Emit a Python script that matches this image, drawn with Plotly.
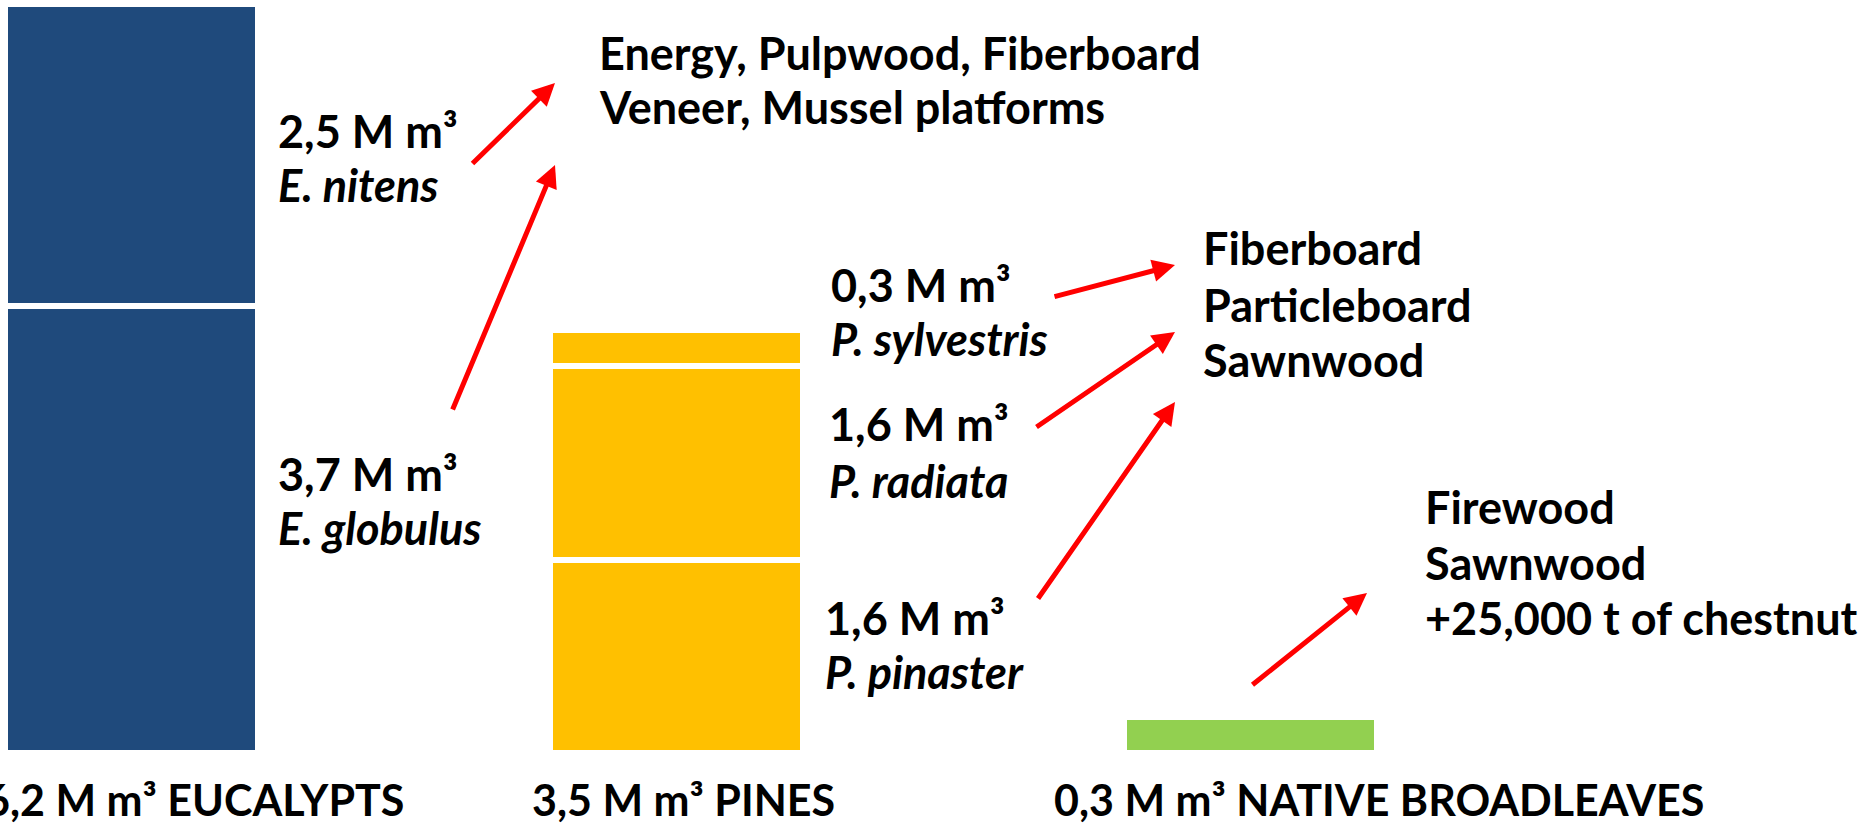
import plotly.graph_objects as go

# --- data -------------------------------------------------------------
groups = ["EUCALYPTS", "PINES", "NATIVE BROADLEAVES"]
group_colors = ["#1F4A7C", "#FFC000", "#92D050"]

species = ["E. globulus", "E. nitens", "P. pinaster", "P. radiata", "P. sylvestris", "Native broadleaves"]
species_group = ["EUCALYPTS", "EUCALYPTS", "PINES", "PINES", "PINES", "NATIVE BROADLEAVES"]
species_volume = [3.7, 2.5, 1.6, 1.6, 0.3, 0.3]  # million m3

eucalypt_uses = ["Energy, Pulpwood, Fiberboard", "Veneer, Mussel platforms"]
pine_uses = ["Fiberboard", "Particleboard", "Sawnwood"]
broadleaf_uses = ["Firewood", "Sawnwood", "+25,000 t of chestnut"]

# --- figure geometry (pixels) ----------------------------------------
W, H = 1861, 827
FONT = "Lato, Carlito, 'Open Sans', sans-serif"
FS = 45
LINE_W = 6            # white separator between stacked segments
X_SCALE = 559.5       # px per category step
BAR_W = (247 + LINE_W) / X_SCALE
Y_SCALE = 120.8       # px per million m3
Y_ZERO = 74           # px of y=0 above the bottom edge
group_shift = {"EUCALYPTS": 0, "PINES": -15, "NATIVE BROADLEAVES": 0}


def vol(v):
    return f"{v:.1f}".replace(".", ",") + " M m³"


def paper(x, y):
    return x / W, 1 - y / H


fig = go.Figure()

for name, grp, v in zip(species, species_group, species_volume):
    fig.add_trace(go.Bar(
        x=[grp], y=[v], name=name,
        width=BAR_W,
        offset=-BAR_W / 2 + group_shift[grp] / X_SCALE,
        marker=dict(color=group_colors[groups.index(grp)],
                    line=dict(color="white", width=LINE_W)),
        showlegend=False,
        hovertemplate=f"{name}: %{{y}} M m³<extra></extra>",
    ))

annotations = []


def label(text, x, y, xanchor="left", size=FS):
    px_, py_ = paper(x, y)
    annotations.append(dict(
        text=text, x=px_, y=py_, xref="paper", yref="paper",
        xanchor=xanchor, yanchor="middle", showarrow=False,
        font=dict(family=FONT, size=size, color="black"),
    ))


def arrow(x0, y0, x1, y1):
    px_, py_ = paper(x1, y1)
    annotations.append(dict(
        text="", x=px_, y=py_, xref="paper", yref="paper",
        ax=x0 - x1, ay=y0 - y1, axref="pixel", ayref="pixel",
        showarrow=True, arrowhead=2, arrowsize=0.9, arrowwidth=5,
        arrowcolor="#FF0000", standoff=0, startstandoff=0,
    ))


# species volumes next to the bars
species_pos = {
    "E. nitens": (276, 131, 185),
    "E. globulus": (276, 474, 528),
    "P. sylvestris": (829, 285, 339),
    "P. radiata": (827, 424, 481),
    "P. pinaster": (823, 618, 672),
}
for name, v in zip(species, species_volume):
    if name in species_pos:
        x, y1, y2 = species_pos[name]
        label(f"<b>{vol(v)}</b>", x, y1)
        label(f"<b><i>{name}</i></b>", x, y2)

# end uses
for txt, y in zip(eucalypt_uses, [53, 107]):
    label(f"<b>{txt}</b>", 597, y)
for txt, y in zip(pine_uses, [248, 305, 360]):
    label(f"<b>{txt}</b>", 1201, y)
for txt, y in zip(broadleaf_uses, [507, 563, 618]):
    label(f"<b>{txt}</b>", 1423, y)

# group totals under the bars
totals = {g: sum(v for s, v in zip(species_group, species_volume) if s == g) for g in groups}
label(f"<b>{vol(totals['EUCALYPTS'])} EUCALYPTS</b>", 406, 799, "right", 43)
label(f"<b>{vol(totals['PINES'])} PINES</b>", 683, 799, "center", 43)
label(f"<b>{vol(totals['NATIVE BROADLEAVES'])} NATIVE BROADLEAVES</b>", 1379, 799, "center", 43)

# arrows to end uses
arrow(471, 165, 555, 83)
arrow(452, 411, 555, 165)
arrow(1053, 297, 1175, 265)
arrow(1035, 428, 1175, 332)
arrow(1037, 600, 1175, 402)
arrow(1251, 686, 1367, 593)

x0 = -131.5 / X_SCALE
fig.update_layout(
    width=W, height=H,
    margin=dict(l=0, r=0, t=0, b=0),
    barmode="stack",
    paper_bgcolor="white", plot_bgcolor="white",
    font=dict(family=FONT),
    xaxis=dict(visible=False, range=[x0, x0 + W / X_SCALE],
               categoryorder="array", categoryarray=groups),
    yaxis=dict(visible=False, range=[-Y_ZERO / Y_SCALE, (H - Y_ZERO) / Y_SCALE]),
    annotations=annotations,
)

fig.write_html("out.html", config={"displayModeBar": False},
               post_script="document.body.style.margin='0';")
